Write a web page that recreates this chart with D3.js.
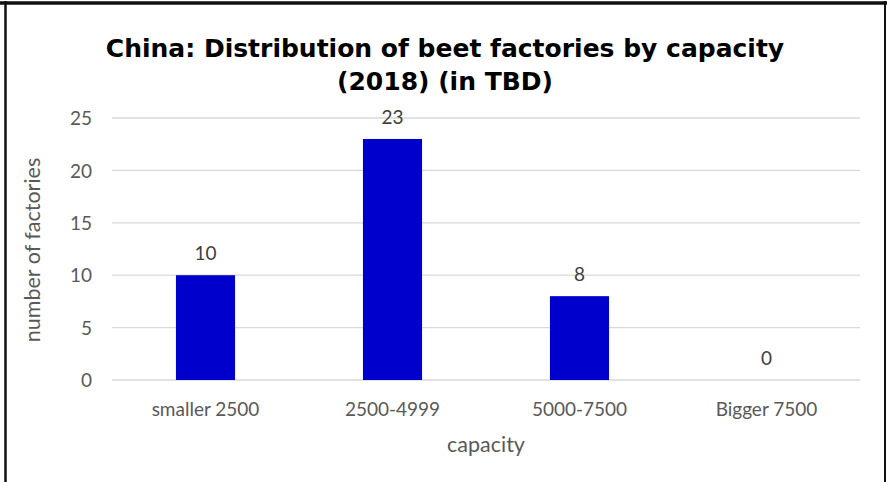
<!DOCTYPE html>
<html><head><meta charset="utf-8">
<script src="https://cdn.jsdelivr.net/npm/d3@7"></script>
<style>body{margin:0;background:#fff}svg{display:block}</style>
</head><body>
<script>
const categories = ["smaller 2500", "2500-4999", "5000-7500", "Bigger 7500"];
const values = [10, 23, 8, 0];
const yTicks = [0, 5, 10, 15, 20, 25];
const titleLines = ["China: Distribution of beet factories by capacity", "(2018) (in TBD)"];
const xTitle = "capacity";
const yTitle = "number of factories";

const W = 887, H = 482;
const FONT = "Lato, 'Open Sans', sans-serif";
const svg = d3.select("body").append("svg").attr("width", W).attr("height", H);
svg.append("rect").attr("width", W).attr("height", H).attr("fill", "#fff");

// frame
svg.append("line").attr("x1", 0).attr("x2", W).attr("y1", 3).attr("y2", 3).attr("stroke", "#111").attr("stroke-width", 3.5);
svg.append("line").attr("x1", 5.5).attr("x2", 5.5).attr("y1", 1).attr("y2", H).attr("stroke", "#111").attr("stroke-width", 2.5);
svg.append("line").attr("x1", 885).attr("x2", 885).attr("y1", 1).attr("y2", H).attr("stroke", "#111").attr("stroke-width", 2);

const x = d3.scaleBand().domain(categories).range([112, 860]).paddingInner(0.684).paddingOuter(0.342);
const y = d3.scaleLinear().domain([0, 25]).range([380, 118]);

// grid
svg.append("g").selectAll("line").data(yTicks).join("line")
  .attr("x1", 112).attr("x2", 860)
  .attr("y1", d => y(d)).attr("y2", d => y(d))
  .attr("stroke", "#d9d9d9").attr("stroke-width", 1.3);

// y axis labels
const yAxis = d3.axisLeft(y).tickValues(yTicks).tickSize(0).tickPadding(0);
const gy = svg.append("g").attr("transform", "translate(92,0)").call(yAxis);
gy.select(".domain").remove();
gy.selectAll("text").attr("font-family", FONT).attr("font-size", 19).attr("fill", "#595959").attr("dy", "0.35em");

// bars
svg.append("g").selectAll("rect").data(values).join("rect")
  .attr("x", (d, i) => x(categories[i]))
  .attr("width", x.bandwidth())
  .attr("y", d => y(d))
  .attr("height", d => y(0) - y(d))
  .attr("fill", "#0000cc");

// data labels
svg.append("g").selectAll("text").data(values).join("text")
  .attr("x", (d, i) => x(categories[i]) + x.bandwidth() / 2)
  .attr("y", d => y(d) - 15)
  .attr("text-anchor", "middle")
  .attr("font-family", FONT).attr("font-size", 19).attr("fill", "#404040")
  .text(d => d);

// x axis labels
const xAxis = d3.axisBottom(x).tickSize(0).tickPadding(0);
const gx = svg.append("g").attr("transform", "translate(0,416)").call(xAxis);
gx.select(".domain").remove();
gx.selectAll("text").attr("font-family", FONT).attr("font-size", 19).attr("fill", "#595959").attr("dy", "0");

// axis titles
svg.append("text").attr("x", 486).attr("y", 452).attr("text-anchor", "middle")
  .attr("font-family", FONT).attr("font-size", 21.5).attr("fill", "#595959").text(xTitle);
svg.append("text").attr("transform", "translate(40,250) rotate(-90)").attr("text-anchor", "middle")
  .attr("font-family", FONT).attr("font-size", 21.5).attr("fill", "#595959").text(yTitle);

// title
svg.append("g").selectAll("text").data(titleLines).join("text")
  .attr("x", 445).attr("y", (d, i) => 57 + i * 33)
  .attr("text-anchor", "middle")
  .attr("font-family", "'DejaVu Sans', Verdana, sans-serif").attr("font-weight", "bold").attr("font-size", 25).attr("fill", "#000")
  .text(d => d);
</script>
</body></html>
